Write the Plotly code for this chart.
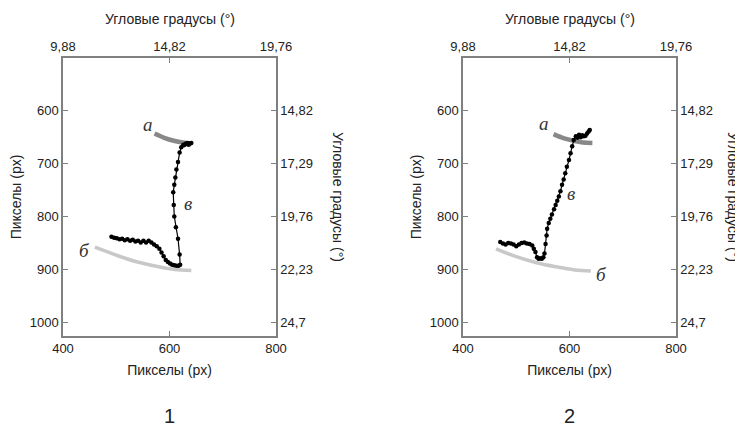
import plotly.graph_objects as go

# ---------------- data ----------------
x_ticks_px = [400, 600, 800]
x_ticks_deg = ["9,88", "14,82", "19,76"]
y_ticks_px = [600, 700, 800, 900, 1000]
y_ticks_deg = ["14,82", "17,29", "19,76", "22,23", "24,7"]

# panel 1
p1_a_x = [572, 590, 610, 625, 641]
p1_a_y = [643, 651, 657, 660, 662]
p1_b_x = [460, 500, 540, 580, 610, 641]
p1_b_y = [858, 873, 886, 895, 900, 902]
p1_v_x = [491, 496, 501, 506, 511, 516, 521, 526, 531, 536, 541, 546, 551, 556, 561, 566,
          571, 576, 581, 585, 589, 593, 597, 601, 605, 609, 613, 617, 620, 619, 616, 612,
          609, 608, 607, 609, 611, 613, 616, 619, 622, 626, 630, 634, 638, 641, 636, 631, 627]
p1_v_y = [838, 840, 841, 843, 842, 845, 843, 846, 844, 847, 846, 849, 846, 849, 846, 849,
          853, 856, 861, 868, 875, 882, 886, 889, 891, 892, 893, 893, 891, 872, 842, 820,
          800, 778, 754, 740, 726, 711, 697, 679, 669, 664, 663, 661, 662, 661, 664, 662, 665]

# panel 2
p2_a_x = [570, 590, 610, 625, 643]
p2_a_y = [644, 652, 657, 660, 661]
p2_b_x = [462, 500, 540, 580, 610, 640]
p2_b_y = [861, 876, 888, 896, 901, 903]
p2_v_x = [470, 475, 480, 485, 490, 495, 500, 505, 510, 515, 520, 525, 530, 533, 536, 539,
          542, 545, 548, 551, 553, 555, 557, 558, 561, 564, 567, 571, 574, 577, 580, 583,
          586, 589, 592, 595, 599, 602, 605, 608, 612, 615, 618, 621, 624, 627, 630, 633,
          636, 638]
p2_v_y = [848, 851, 853, 850, 851, 853, 856, 853, 850, 849, 851, 852, 855, 861, 867, 877,
          880, 879, 880, 877, 870, 852, 836, 823, 812, 804, 796, 786, 778, 770, 762, 752,
          740, 730, 718, 706, 693, 680, 667, 655, 648, 651, 645, 650, 646, 648, 647, 643,
          639, 636]

curve_labels = ["а", "б", "в"]
p1_label_pos = [(559, 625), (441, 864), (634, 776)]
p2_label_pos = [(553, 623), (660, 909), (602, 756)]
panel_names = ["1", "2"]
px_title = "Пикселы (px)"
deg_title = "Угловые градусы (°)"

# ---------------- figure ----------------
OFF = 8                       # default page margin of the browser
W, H = 743 - OFF, 427 - OFF
FONT = "Liberation Sans, Arial, sans-serif"
AX = "#808080"
TXT = "#222222"
TICK_FS = 13
TITLE_FS = 14

def fx(px):
    return (px - OFF) / W

def fy(py):
    return 1 - (py - OFF) / H

fig = go.Figure()

def add_panel(n, vx, vy, bx, by, axx, axy):
    xa, ya = ("x", "y") if n == 0 else ("x3", "y3")
    fig.add_trace(go.Scatter(x=bx, y=by, mode="lines", line=dict(color="#c8c8c8", width=3.5, shape="spline"),
                             xaxis=xa, yaxis=ya, showlegend=False, hoverinfo="skip"))
    fig.add_trace(go.Scatter(x=axx, y=axy, mode="lines", line=dict(color="#888888", width=4.5, shape="spline"),
                             xaxis=xa, yaxis=ya, showlegend=False, hoverinfo="skip"))
    fig.add_trace(go.Scatter(x=vx, y=vy, mode="lines+markers", line=dict(color="black", width=1.2),
                             marker=dict(color="black", size=4.5),
                             xaxis=xa, yaxis=ya, showlegend=False))

add_panel(0, p1_v_x, p1_v_y, p1_b_x, p1_b_y, p1_a_x, p1_a_y)
add_panel(1, p2_v_x, p2_v_y, p2_b_x, p2_b_y, p2_a_x, p2_a_y)

# invisible traces for the secondary (angle) axes
for xa, ya in [("x2", "y2"), ("x4", "y4")]:
    fig.add_trace(go.Scatter(x=[600], y=[800], mode="markers", marker=dict(opacity=0),
                             xaxis=xa, yaxis=ya, showlegend=False, hoverinfo="skip"))

dom_x = [[fx(63), fx(276)], [fx(463), fx(676)]]
dom_y = [fy(336), fy(58)]
XR = [400, 800]
YR = [1026, 500]

common = dict(showgrid=False, zeroline=False, showline=True, linecolor=AX, linewidth=1.5,
              ticks="inside", ticklen=5, tickwidth=1.2, tickcolor=AX, automargin=False,
              tickfont=dict(family=FONT, size=TICK_FS, color=TXT))

layout = dict(width=W, height=H, margin=dict(l=0, r=0, t=0, b=0, pad=0, autoexpand=False),
              paper_bgcolor="white", plot_bgcolor="white",
              font=dict(family=FONT, color=TXT))

for i in range(2):
    xb, xt = ("xaxis", "xaxis2") if i == 0 else ("xaxis3", "xaxis4")
    yl, yr = ("yaxis", "yaxis2") if i == 0 else ("yaxis3", "yaxis4")
    xbn = "x" if i == 0 else "x3"
    yln = "y" if i == 0 else "y3"
    layout[xb] = dict(common, domain=dom_x[i], range=XR, anchor=yln, side="bottom",
                      tickvals=x_ticks_px, ticktext=[str(v) for v in x_ticks_px],
                      title=dict(text=px_title, font=dict(size=TITLE_FS, family=FONT), standoff=10))
    layout[xt] = dict(common, domain=dom_x[i], range=XR, anchor=yln, side="top", overlaying=xbn,
                      tickvals=x_ticks_px, ticktext=x_ticks_deg)
    layout[yl] = dict(common, domain=dom_y, range=YR, anchor=xbn, side="left",
                      tickvals=y_ticks_px, ticktext=[str(v) for v in y_ticks_px],
                      title=dict(text=px_title, font=dict(size=TITLE_FS, family=FONT), standoff=5))
    layout[yr] = dict(common, domain=dom_y, range=YR, anchor=xbn, side="right", overlaying=yln,
                      tickvals=y_ticks_px, ticktext=y_ticks_deg)

annotations = []
# top titles
for i in range(2):
    annotations.append(dict(x=(dom_x[i][0] + dom_x[i][1]) / 2, y=fy(19), xref="paper", yref="paper",
                            text=deg_title, showarrow=False,
                            font=dict(family=FONT, size=TITLE_FS, color=TXT), xanchor="center", yanchor="middle"))
# right titles (reading top-to-bottom)
for i, xc in enumerate([338, 733]):
    annotations.append(dict(x=fx(xc), y=(dom_y[0] + dom_y[1]) / 2, xref="paper", yref="paper",
                            text=deg_title, textangle=90, showarrow=False,
                            font=dict(family=FONT, size=TITLE_FS, color=TXT), xanchor="center", yanchor="middle"))
# panel numbers
for i, xc in enumerate([169, 569]):
    annotations.append(dict(x=fx(xc), y=fy(416), xref="paper", yref="paper", text=panel_names[i],
                            showarrow=False, font=dict(family=FONT, size=20, color=TXT),
                            xanchor="center", yanchor="middle"))
# curve labels
for i, pos in enumerate([p1_label_pos, p2_label_pos]):
    xr, yr_ = ("x", "y") if i == 0 else ("x3", "y3")
    for lab, (lx, ly) in zip(curve_labels, pos):
        annotations.append(dict(x=lx, y=ly, xref=xr, yref=yr_, text="<i>%s</i>" % lab, showarrow=False,
                                font=dict(family="Liberation Serif, DejaVu Serif, serif", size=19, color="#333333"),
                                xanchor="center", yanchor="middle"))
layout["annotations"] = annotations

fig.update_layout(**layout)
fig.write_html("out.html")
